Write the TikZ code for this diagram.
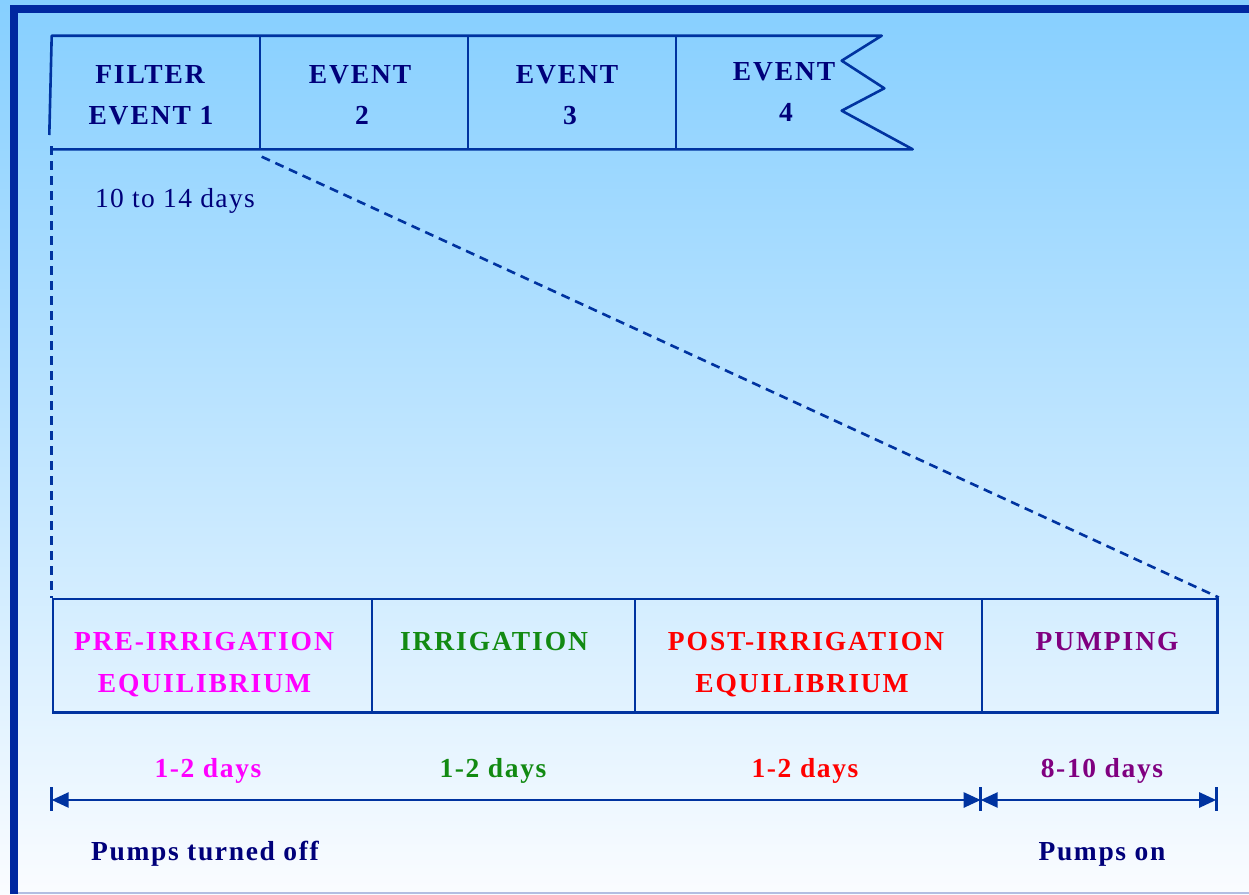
\documentclass[tikz,border=0pt]{standalone}
\usepackage{fontspec}
\setmainfont{Liberation Serif}
\newfontfamily\capsfont[LetterSpace=7]{Liberation Serif}
\newfontfamily\lsfont[LetterSpace=6]{Liberation Serif}
\newfontfamily\regfont[LetterSpace=5]{Liberation Serif}
\usetikzlibrary{arrows.meta}
\definecolor{bgtop}{HTML}{86CFFF}
\definecolor{bgmid}{HTML}{CDE9FC}
\definecolor{bgbot}{HTML}{FAFCFF}
\definecolor{framecol}{HTML}{0028A0}
\definecolor{linecol}{HTML}{0033A0}
\definecolor{navy}{HTML}{00007A}
\definecolor{magentacol}{HTML}{FF00FF}
\definecolor{greencol}{HTML}{128A12}
\definecolor{redcol}{HTML}{FF0000}
\definecolor{purplecol}{HTML}{800080}
\tikzset{
  ln/.style={draw=linecol, line width=2.6pt},
  dashln/.style={draw=linecol, line width=2.6pt, dash pattern=on 9pt off 6pt},
  caplbl/.style={anchor=base, inner sep=0pt, font=\capsfont\bfseries\fontsize{27.5}{30}\selectfont},
  boldlbl/.style={anchor=base, inner sep=0pt, font=\lsfont\bfseries\fontsize{27.5}{30}\selectfont},
  reglbl/.style={anchor=base, inner sep=0pt, font=\regfont\fontsize{27.5}{30}\selectfont},
  cell/.style={draw=linecol, line width=2.6pt, minimum height=113.7pt, inner sep=0pt, anchor=north west},
  dimarrow/.style={draw=linecol, line width=2.6pt, {Triangle[length=17pt,width=15pt]}-{Triangle[length=17pt,width=15pt]}},
}
\begin{document}
\begin{tikzpicture}[x=1pt,y=-1pt]
\useasboundingbox (0,0) rectangle (1249,894);
\shade[top color=bgtop, middle color=bgmid, bottom color=bgbot] (0,0) rectangle (1249,894);
% frame
\draw[framecol, line width=7.5pt] (14,894) -- (14,9) -- (1249,9);
\draw[color=framecol!30, line width=1.5pt] (18,893.2) -- (1249,893.2);

% top strip coordinates
\coordinate (tl) at (51.7,35.7);
\coordinate (tlb) at (49.3,135);
\coordinate (bl) at (51.7,149.3);
\coordinate (d1t) at (260,35.7);  \coordinate (d1b) at (260,149.3);
\coordinate (d2t) at (468,35.7);  \coordinate (d2b) at (468,149.3);
\coordinate (d3t) at (676,35.7);  \coordinate (d3b) at (676,149.3);
\coordinate (z1) at (881.7,35.7);
\coordinate (z2) at (841.7,60.7);
\coordinate (z3) at (884.3,88.3);
\coordinate (z4) at (841.7,110.7);
\coordinate (z5) at (912.7,149.3);
\draw[ln, line join=round] (tlb) -- (tl) -- (z1) -- (z2) -- (z3) -- (z4) -- (z5) -- (bl);
\draw[ln] (d1t) -- (d1b);
\draw[ln] (d2t) -- (d2b);
\draw[ln] (d3t) -- (d3b);

\node[caplbl, text=navy] (f1a) at (150,83) {FILTER};
\node[caplbl, text=navy] (f1b) at (151,124) {EVENT 1};
\node[caplbl, text=navy] (e2a) at (360,83) {EVENT};
\node[caplbl, text=navy] (e2b) at (362,124) {2};
\node[caplbl, text=navy] (e3a) at (567,83) {EVENT};
\node[caplbl, text=navy] (e3b) at (570,124) {3};
\node[caplbl, text=navy] (e4a) at (784,80) {EVENT};
\node[caplbl, text=navy] (e4b) at (786,121.7) {4};

\node[reglbl, text=navy] (span) at (175,207) {10 to 14 days};

% bottom boxes
\node[cell, minimum width=319pt] (pre) at (51.7,597.5) {};
\node[cell, minimum width=263pt] (irr) at (370.7,597.5) {};
\node[cell, minimum width=347pt] (post) at (633.7,597.5) {};
\node[cell, minimum width=235.5pt] (pump) at (980.7,597.5) {};

% dashed zoom lines
\coordinate (dvs) at (51.7,146);
\draw[dashln] (dvs) -- (pre.north west);
\coordinate (dds) at (261.7,156.7);
\draw[dashln] (dds) -- (pump.north east);

\node[caplbl, text=magentacol] (pret1) at (204,650) {PRE-IRRIGATION};
\node[caplbl, text=magentacol] (pret2) at (204.5,692.5) {EQUILIBRIUM};
\node[caplbl, text=greencol] (irrt) at (494,650) {IRRIGATION};
\node[caplbl, text=redcol] (postt1) at (806,650) {POST-IRRIGATION};
\node[caplbl, text=redcol] (postt2) at (802,692.5) {EQUILIBRIUM};
\node[caplbl, text=purplecol] (pumpt) at (1107,650) {PUMPING};

% durations
\node[boldlbl, text=magentacol] (dur1) at (208,777) {1-2 days};
\node[boldlbl, text=greencol] (dur2) at (493,777) {1-2 days};
\node[boldlbl, text=redcol] (dur3) at (805,777) {1-2 days};
\node[boldlbl, text=purplecol] (dur4) at (1102,777) {8-10 days};

% dimension arrows
\coordinate (a0) at (51.7,800);
\coordinate (a1) at (980.7,800);
\coordinate (a2) at (1216.2,800);
\draw[ln] (51.7,787) -- (51.7,811);
\draw[ln] (980.7,787) -- (980.7,811);
\draw[ln] (1216.2,787) -- (1216.2,811);
\draw[dimarrow] (a0) -- (a1);
\draw[dimarrow] (a1) -- (a2);

\node[boldlbl, text=navy] (off) at (205,860) {Pumps turned off};
\node[boldlbl, text=navy] (on) at (1102,860) {Pumps on};
\end{tikzpicture}
\end{document}
